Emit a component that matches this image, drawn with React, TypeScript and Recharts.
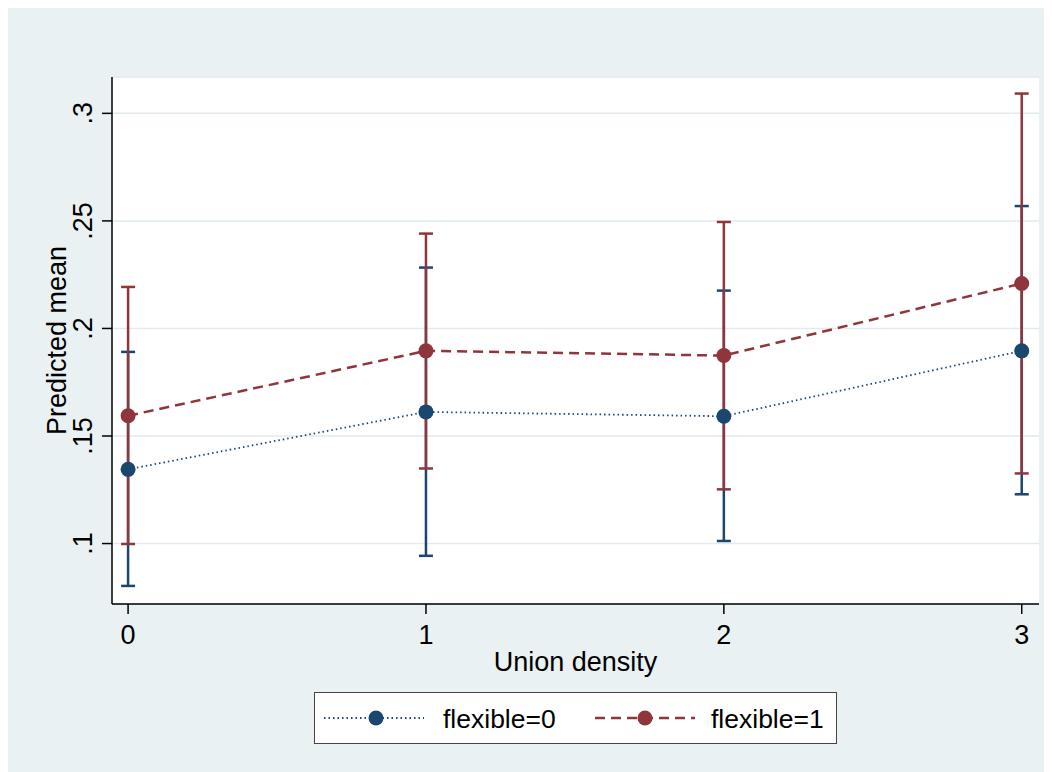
import { LineChart, Line, XAxis, YAxis, CartesianGrid, ErrorBar } from "recharts";

// union density categories
const density = [0, 1, 2, 3];

// flexible=0 : predicted mean and 95% CI
const flex0Mean = [0.1345, 0.1612, 0.1592, 0.1896];
const flex0Lo = [0.0803, 0.0943, 0.1012, 0.1229];
const flex0Hi = [0.1891, 0.2283, 0.2176, 0.2569];

// flexible=1 : predicted mean and 95% CI
const flex1Mean = [0.1594, 0.1896, 0.1874, 0.2209];
const flex1Lo = [0.0998, 0.1349, 0.1252, 0.1326];
const flex1Hi = [0.2193, 0.2441, 0.2495, 0.3092];

const yTicks = [0.1, 0.15, 0.2, 0.25, 0.3];
const xTicks = [0, 1, 2, 3];

const NAVY = "#1A476F";
const MAROON = "#90353B";
const FONT = "'Liberation Sans', Arial, Helvetica, sans-serif";

const rows = density.map((d, i) => ({
  x: d,
  m0: flex0Mean[i],
  m1: flex1Mean[i],
  e0: [flex0Mean[i] - flex0Lo[i], flex0Hi[i] - flex0Mean[i]],
  e1: [flex1Mean[i] - flex1Lo[i], flex1Hi[i] - flex1Mean[i]],
}));

const fmt = (v: number) => String(v).replace(/^0\./, ".");

const YTick = (props: any) => {
  const { x, y, payload } = props;
  const bx = x - 8;
  return (
    <text
      x={bx}
      y={y}
      transform={`rotate(-90, ${bx}, ${y})`}
      textAnchor="middle"
      fontSize={27}
      fontFamily={FONT}
      fill="#000"
    >
      {fmt(payload.value)}
    </text>
  );
};

const PLOT_TOP = 69;
const PLOT_H = 527;
const PLOT_LEFT = 104;
const PLOT_W = 927;

export default function App() {
  return (
    <div
      style={{
        position: "relative",
        width: 1044,
        height: 764,
        background: "#EAF1F3",
        fontFamily: FONT,
      }}
    >
      <LineChart
        width={1044}
        height={764}
        data={rows}
        margin={{ top: PLOT_TOP, right: 13, bottom: 98, left: 0 }}
      >
        <CartesianGrid
          vertical={false}
          fill="#FFFFFF"
          stroke="#E1EAEE"
          strokeWidth={1.5}
        />
        <XAxis
          dataKey="x"
          type="number"
          domain={[-0.054, 3.058]}
          ticks={xTicks}
          allowDataOverflow
          height={70}
          tickSize={10}
          tickMargin={11}
          axisLine={{ stroke: "#000", strokeWidth: 1.5 }}
          tickLine={{ stroke: "#000", strokeWidth: 1.5 }}
          tick={{ fontSize: 27, fill: "#000", fontFamily: FONT }}
          label={() => (
            <text
              x={PLOT_LEFT + PLOT_W / 2}
              y={663}
              textAnchor="middle"
              fontSize={27}
              fontFamily={FONT}
              fill="#000"
            >
              Union density
            </text>
          )}
        />
        <YAxis
          type="number"
          domain={[0.0719, 0.3169]}
          ticks={yTicks}
          allowDataOverflow
          width={104}
          tickSize={10}
          axisLine={{ stroke: "#000", strokeWidth: 1.5 }}
          tickLine={{ stroke: "#000", strokeWidth: 1.5 }}
          tick={<YTick />}
          label={() => {
            const cx = 58;
            const cy = PLOT_TOP + PLOT_H / 2;
            return (
              <text
                x={cx}
                y={cy}
                transform={`rotate(-90, ${cx}, ${cy})`}
                textAnchor="middle"
                fontSize={27}
                fontFamily={FONT}
                fill="#000"
              >
                Predicted mean
              </text>
            );
          }}
        />

        {/* confidence intervals underneath the lines */}
        <Line
          dataKey="m0"
          stroke="none"
          dot={false}
          activeDot={false}
          isAnimationActive={false}
        >
          <ErrorBar dataKey="e0" direction="y" width={7} stroke={NAVY} strokeWidth={2.5} isAnimationActive={false} />
        </Line>
        <Line
          dataKey="m1"
          stroke="none"
          dot={false}
          activeDot={false}
          isAnimationActive={false}
        >
          <ErrorBar dataKey="e1" direction="y" width={7} stroke={MAROON} strokeWidth={2.5} isAnimationActive={false} />
        </Line>

        <Line
          dataKey="m0"
          type="linear"
          stroke={NAVY}
          strokeWidth={1.8}
          strokeDasharray="1.5 3"
          dot={{ r: 7.5, fill: NAVY, stroke: NAVY, strokeWidth: 0, strokeDasharray: "" }}
          activeDot={false}
          isAnimationActive={false}
        />
        <Line
          dataKey="m1"
          type="linear"
          stroke={MAROON}
          strokeWidth={2.5}
          strokeDasharray="10 6"
          dot={{ r: 7.5, fill: MAROON, stroke: MAROON, strokeWidth: 0, strokeDasharray: "" }}
          activeDot={false}
          isAnimationActive={false}
        />
      </LineChart>

      {/* legend */}
      <div
        style={{
          position: "absolute",
          left: 306,
          top: 684,
          width: 523,
          height: 52,
          background: "#fff",
          border: "1.5px solid #444",
          boxSizing: "border-box",
        }}
      >
        <svg width={520} height={49} style={{ display: "block" }}>
          <line x1={9} y1={25} x2={109} y2={25} stroke={NAVY} strokeWidth={1.8} strokeDasharray="1.5 3" />
          <circle cx={61} cy={25} r={7.5} fill={NAVY} />
          <text x={128} y={34.5} fontSize={26.5} fontFamily={FONT} fill="#000">
            flexible=0
          </text>
          <line x1={280} y1={25} x2={380} y2={25} stroke={MAROON} strokeWidth={2.5} strokeDasharray="10 6" />
          <circle cx={330} cy={25} r={7.5} fill={MAROON} />
          <text x={396} y={34.5} fontSize={26.5} fontFamily={FONT} fill="#000">
            flexible=1
          </text>
        </svg>
      </div>
    </div>
  );
}
